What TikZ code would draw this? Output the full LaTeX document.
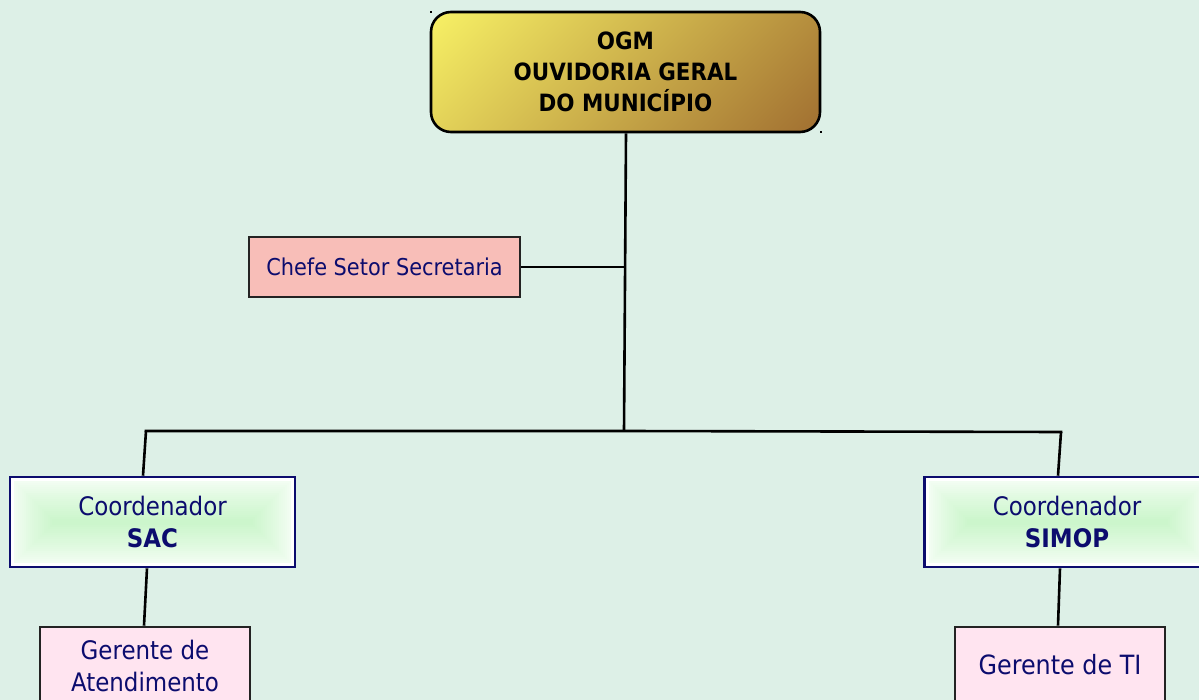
\documentclass[tikz,border=0pt]{standalone}
\usepackage{fontspec}
\setmainfont{DejaVu Sans}[FakeStretch=0.9]
\usetikzlibrary{calc}
\definecolor{bg}{RGB}{221,240,231}
\definecolor{navy}{RGB}{12,12,110}
\definecolor{gold1}{RGB}{252,248,104}
\definecolor{gold2}{RGB}{156,104,46}
\definecolor{chefefill}{RGB}{248,190,184}
\definecolor{pinkfill}{RGB}{255,228,240}
\definecolor{lgreen}{RGB}{204,246,204}
\definecolor{boxborder}{RGB}{35,35,35}
\begin{document}
\begin{tikzpicture}[x=1pt,y=-1pt,
  conn/.style={draw=black, line width=2.6pt},
  ogmbox/.style={draw=black, line width=2.6pt, rounded corners=20pt,
    minimum width=389pt, minimum height=120pt, inner sep=0pt,
    align=center, font=\fontsize{23.8}{31}\selectfont\bfseries, text=black,
    path picture={
      \shade[top color=gold1, bottom color=gold2, shading angle=45]
        ([xshift=-200pt,yshift=-200pt]path picture bounding box.center) rectangle
        ([xshift=200pt,yshift=200pt]path picture bounding box.center);
    }},
  chefebox/.style={draw=boxborder, line width=2.6pt, fill=chefefill,
    minimum width=271pt, minimum height=60pt, inner sep=0pt, text=navy,
    font=\fontsize{23.2}{31}\selectfont},
  coordbox/.style={draw=navy, line width=2.6pt, fill=white,
    minimum width=285pt, minimum height=90pt, inner sep=0pt, align=center, text=navy,
    font=\fontsize{25.5}{32}\selectfont,
    path picture={
      \foreach \d [evaluate=\d as \p using {int(12+88*(\d/42)^0.8)}] in {4,6,...,42} {
        \fill[lgreen!\p!white] ([xshift=\d pt,yshift=\d pt]path picture bounding box.south west) rectangle ([xshift=-\d pt,yshift=-\d pt]path picture bounding box.north east);
      }
    }},
  gerbox/.style={draw=boxborder, line width=2.6pt, fill=pinkfill,
    minimum width=210pt, inner sep=0pt, align=center, text=navy,
    font=\fontsize{25.5}{32}\selectfont}
]
\fill[bg] (0,0) rectangle (1199,700);
\useasboundingbox (0,0) rectangle (1199,700);
\clip (0,0) rectangle (1199,700);

% nodes
\node[ogmbox] (ogm) at (625.5,72) {OGM\\OUVIDORIA GERAL\\DO MUNICÍPIO};
\node[chefebox] (chefe) at (384.5,267) {Chefe Setor Secretaria};
\node[coordbox] (sac) at (152.5,522) {Coordenador\\\textbf{SAC}};
\node[coordbox] (simop) at (1067,522) {Coordenador\\\textbf{SIMOP}};
\node[gerbox, minimum height=78pt] (gat) at (145,666) {Gerente de\\Atendimento};
\node[gerbox, minimum height=76pt, font=\fontsize{26.5}{32}\selectfont] (gti) at (1060,665) {Gerente de TI};

% tiny marks
\fill[black] (429.5,11) rectangle (431.5,13);
\fill[black] (820,131) rectangle (822,133);

% junctions
\coordinate (jmain) at (624,431);
\coordinate (jl) at (146,431);
\coordinate (jr) at (1061,432);
\coordinate (jchefe) at (625.2,267);

% connectors
\draw[conn] ([xshift=0.5pt]ogm.south) -- (jmain);
\draw[conn] (chefe.east) -- (jchefe);
\draw[conn, line cap=rect] (jl) -- (jmain) -- (jr);
\draw[conn] (jl) -- ([xshift=-9.5pt]sac.north);
\draw[conn] (jr) -- ([xshift=-9pt]simop.north);
\draw[conn] ([xshift=-5.5pt]sac.south) -- ([xshift=-1pt]gat.north);
\draw[conn] ([xshift=-7pt]simop.south) -- ([xshift=-2pt]gti.north);
\end{tikzpicture}
\end{document}
